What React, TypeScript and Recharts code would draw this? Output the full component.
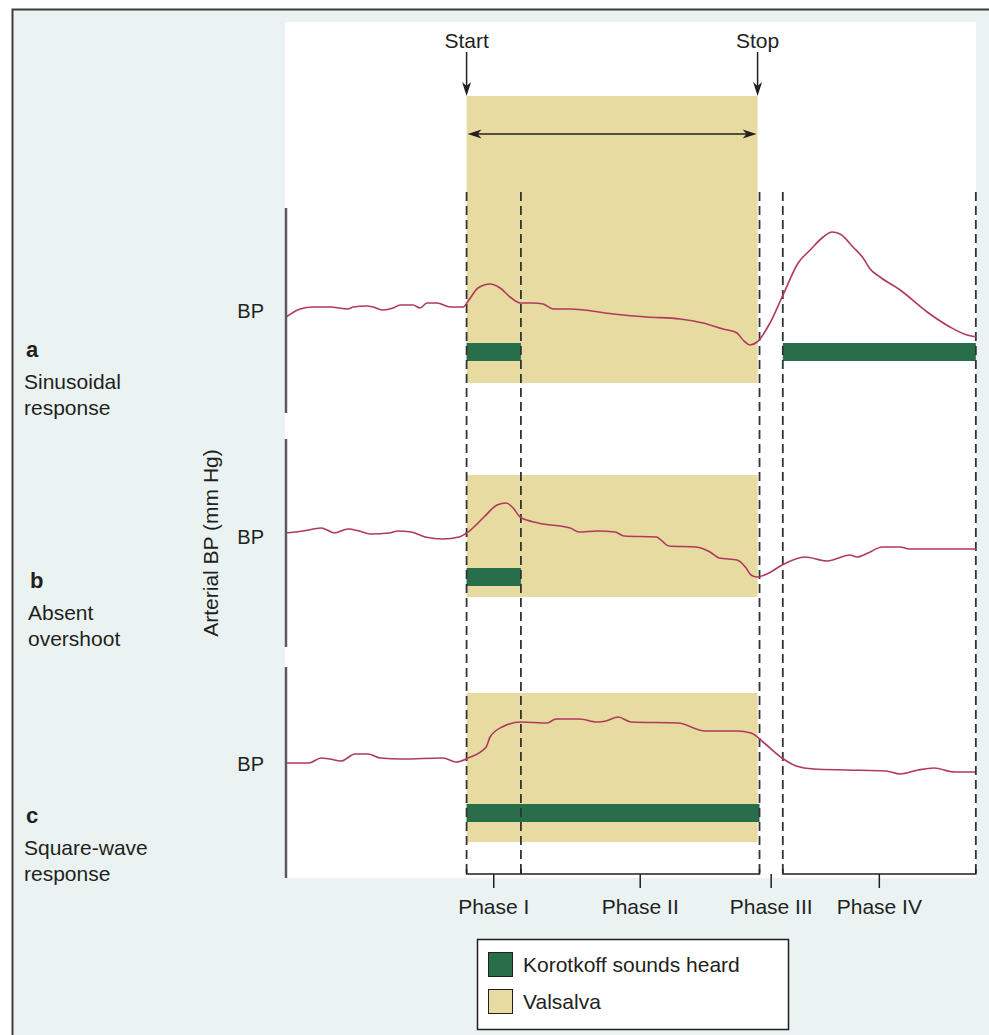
import React from 'react';
import {
    ComposedChart,
    Line,
    XAxis,
    YAxis,
    ReferenceArea,
    ReferenceLine
} from 'recharts';

// time in seconds from the start of the strain
const phaseNames = ['Phase I', 'Phase II', 'Phase III', 'Phase IV'];
const phaseEdges = [0, 2.8, 15.1, 16.3, 26.25];
const valsalvaSpan = [0, 15];

// periods where Korotkoff sounds are heard, per response type
const korotkoffA = [[0, 2.8], [16.3, 26.25]];
const korotkoffB = [[0, 2.8]];
const korotkoffC = [[0, 15.1]];

// a: sinusoidal response
const timeA = [-9.3, -8.58, -7.91, -7.04, -6.11, -5.85, -5.13, -4.82, -4.3, -3.79, -3.43, -2.76, -2.4, -2.04, -1.52, -0.85, -0.18,
    0.08, 0.59, 1.21, 1.73, 2.24, 2.76, 3.43, 3.94, 4.46, 5.34, 7.55, 9.3, 11.01, 12.19, 13.22, 13.94, 14.25, 14.61, 14.97,
    15.64, 16.31, 17.09, 17.71, 18.38, 18.84, 19.25, 19.92, 20.44, 20.8, 21.31, 22.35, 23.74, 24.92, 25.8, 26.31];
const bpA = [116, 119.2, 120, 120, 119.2, 120, 120.4, 120, 118.8, 119.6, 120.8, 120.8, 119.6, 121.6, 121.6, 120, 120,
    122.4, 127.6, 129.2, 127.6, 124, 121.6, 121.6, 121.2, 119.2, 119.2, 117.2, 116, 115.2, 113.6, 111.2, 109.6, 106.8, 104.8, 106,
    113.6, 124.8, 137.6, 142.8, 148, 150, 149.2, 144, 139.6, 135.2, 132, 126.8, 118, 112, 108.8, 108];

// b: absent overshoot
const timeB = [-9.36, -8.43, -7.5, -7.19, -6.83, -6.11, -5.54, -4.97, -3.99, -3.53, -2.86, -2.14, -1.21, -0.39,
    0.08, 0.9, 1.57, 2.04, 2.4, 2.76, 3.69, 5.34, 5.8, 6.73, 7.65, 8.12, 9.77, 10.44, 11.83, 12.55, 13.02, 13.94, 14.41, 14.66, 14.97,
    15.59, 16.26, 17.45, 18.58, 19.77, 20.13, 20.7, 21.42, 22.35, 22.81, 26.26];
const bpB = [120, 120.8, 122, 121.2, 120, 121.6, 120.8, 119.6, 120, 120.8, 120.4, 118.4, 117.6, 118.4,
    120.4, 126.4, 131.2, 132, 130, 126.4, 124, 122, 120.4, 120.8, 120.4, 118.8, 118.4, 114.8, 114.4, 112.4, 110, 109.2, 106, 103.2, 102.4,
    104, 107.2, 110.4, 108.8, 111.2, 110.4, 112, 114.4, 114.4, 113.6, 113.6];

// c: square-wave response
const timeC = [-9.36, -8.12, -7.5, -7.04, -6.47, -5.75, -5.08, -4.46, -3.32, -1.21, -0.54,
    0.08, 1.01, 1.21, 1.83, 2.81, 4.15, 4.61, 5.8, 6.73, 7.19, 7.81, 8.48, 10.9, 12.29, 13.94, 14.66,
    15.34, 16.26, 16.99, 17.91, 19.56, 21.62, 22.35, 23.27, 24.1, 25.13, 26.21];
const bpC = [118.8, 118.8, 120.8, 120.4, 119.6, 122.4, 122.4, 120.8, 120.4, 120.8, 119.2,
    120.8, 125.2, 129.2, 133.2, 135.2, 134.8, 136.4, 136.4, 135.2, 135.6, 137.2, 135.2, 134.8, 131.6, 131.6, 130.8,
    126.8, 120.8, 117.6, 116.4, 116, 115.6, 114.4, 116, 116.8, 115.2, 115.2];

const toPoints = (time: number[], bp: number[]) => time.map((t, i) => ({ t, bp: bp[i] }));

// layout
const W = 989;
const H = 1035;
const PLOT = { left: 285, top: 22, width: 692, height: 856 };
const T_MIN = -9.36;
const T_MAX = 26.31;
const PX_PER_MMHG = 2.5;
const BASE_BP = 120;

const COLORS = {
    frame: '#eaf3f2',
    trace: '#b0395f',
    valsalva: '#e7dba2',
    korotkoff: '#296e4a',
    ink: '#231f20',
    axis: '#5a5a5a'
};
const FONT = '"Liberation Sans", Arial, Helvetica, sans-serif';

const xPx = (t: number) => PLOT.left + ((t - T_MIN) / (T_MAX - T_MIN)) * PLOT.width;
const bpAt = (basePx: number, px: number) => BASE_BP + (basePx - px) / PX_PER_MMHG;
const yDomain = (basePx: number) => [
    bpAt(basePx, PLOT.top + PLOT.height),
    bpAt(basePx, PLOT.top)
];

const panels = [
    { id: 'a', basePx: 307, points: toPoints(timeA, bpA), korotkoff: korotkoffA, band: [96, 383], bar: [343, 361], axis: [208, 413] },
    { id: 'b', basePx: 533, points: toPoints(timeB, bpB), korotkoff: korotkoffB, band: [475, 597], bar: [568, 586], axis: [439, 647] },
    { id: 'c', basePx: 760, points: toPoints(timeC, bpC), korotkoff: korotkoffC, band: [693, 842], bar: [804, 822], axis: [667, 878] }
];

const sideLabels = [
    { letter: 'a', lines: ['Sinusoidal', 'response'], x: 24, y: 349 },
    { letter: 'b', lines: ['Absent', 'overshoot'], x: 28, y: 580 },
    { letter: 'c', lines: ['Square-wave', 'response'], x: 24, y: 815 }
];

const DASH_TOP = 192;
const DASH_BOTTOM = 873;
const BRACKET_Y = 874;

const Arrowhead = ({ x, y, dir }: { x: number; y: number; dir: 'down' | 'left' | 'right' }) => {
    const pts =
        dir === 'down'
            ? `${x},${y} ${x - 4.5},${y - 14} ${x},${y - 10} ${x + 4.5},${y - 14}`
            : dir === 'left'
                ? `${x},${y} ${x + 14},${y - 4.5} ${x + 10},${y} ${x + 14},${y + 4.5}`
                : `${x},${y} ${x - 14},${y - 4.5} ${x - 10},${y} ${x - 14},${y + 4.5}`;
    return <polygon points={pts} fill={COLORS.ink} />;
};

const Backdrop = () => (
    <svg width={W} height={H} style={{ position: 'absolute', left: 0, top: 0 }}>
        <rect x={0} y={0} width={W} height={H} fill="#ffffff" />
        <rect x={12.5} y={9.5} width={W + 20} height={H + 20} fill={COLORS.frame} stroke="#3c3c3c" strokeWidth={2} />
        <rect x={PLOT.left} y={PLOT.top} width={976 - PLOT.left} height={PLOT.height} fill="#ffffff" />
    </svg>
);

const Annotations = () => {
    const start = xPx(valsalvaSpan[0]);
    const stop = xPx(valsalvaSpan[1]);
    const e = phaseEdges.map(xPx);
    const textStyle = { fontFamily: FONT, fontSize: 21, fill: COLORS.ink };
    return (
        <svg width={W} height={H} style={{ position: 'absolute', left: 0, top: 0, pointerEvents: 'none' }}>
            {/* start / stop markers */}
            <text x={start} y={40} textAnchor="middle" dominantBaseline="central" {...textStyle}>Start</text>
            <text x={stop} y={40} textAnchor="middle" dominantBaseline="central" {...textStyle}>Stop</text>
            <line x1={start} y1={52} x2={start} y2={88} stroke={COLORS.ink} strokeWidth={1.5} />
            <Arrowhead x={start} y={96} dir="down" />
            <line x1={stop} y1={52} x2={stop} y2={88} stroke={COLORS.ink} strokeWidth={1.5} />
            <Arrowhead x={stop} y={96} dir="down" />
            <line x1={start + 8} y1={134} x2={stop - 8} y2={134} stroke={COLORS.ink} strokeWidth={1.5} />
            <Arrowhead x={start + 1} y={134} dir="left" />
            <Arrowhead x={stop - 1} y={134} dir="right" />

            {/* per-panel vertical axes */}
            {panels.map(p => (
                <line key={p.id} x1={286} y1={p.axis[0]} x2={286} y2={p.axis[1]} stroke={COLORS.axis} strokeWidth={2.5} />
            ))}
            {panels.map(p => (
                <text key={`bp-${p.id}`} x={264} y={p.basePx + 4} textAnchor="end" dominantBaseline="central" {...textStyle} fontSize={20}>BP</text>
            ))}
            <text
                x={210}
                y={543}
                textAnchor="middle"
                dominantBaseline="central"
                transform="rotate(-90 210 543)"
                {...textStyle}
            >
                Arterial BP (mm Hg)
            </text>

            {sideLabels.map(s => (
                <g key={s.letter}>
                    <text x={s.x + 2} y={s.y} dominantBaseline="central" fontFamily={FONT} fontSize={22} fontWeight="bold" fill={COLORS.ink}>
                        {s.letter}
                    </text>
                    {s.lines.map((l, i) => (
                        <text key={l} x={s.x} y={s.y + 32 + i * 26} dominantBaseline="central" {...textStyle}>{l}</text>
                    ))}
                </g>
            ))}

            {/* phase brackets */}
            <path
                d={`M${e[0]},${BRACKET_Y - 5} V${BRACKET_Y} H${e[2]} V${BRACKET_Y - 5} M${e[1]},${BRACKET_Y - 5} V${BRACKET_Y}
                    M${e[3]},${BRACKET_Y - 5} V${BRACKET_Y} H${e[4]} V${BRACKET_Y - 5}`}
                fill="none"
                stroke={COLORS.ink}
                strokeWidth={1.5}
            />
            {phaseNames.map((name, i) => {
                const cx = (e[i] + e[i + 1]) / 2;
                return (
                    <g key={name}>
                        <line x1={cx} y1={BRACKET_Y} x2={cx} y2={BRACKET_Y + 14} stroke={COLORS.ink} strokeWidth={1.5} />
                        <text x={cx} y={906} textAnchor="middle" dominantBaseline="central" {...textStyle}>{name}</text>
                    </g>
                );
            })}

            {/* legend */}
            <rect x={477.5} y={939.5} width={311} height={90} fill="#ffffff" stroke={COLORS.ink} strokeWidth={1.5} />
            <rect x={488.5} y={952.5} width={24} height={24} fill={COLORS.korotkoff} stroke={COLORS.ink} strokeWidth={1} />
            <text x={523} y={964} dominantBaseline="central" {...textStyle}>Korotkoff sounds heard</text>
            <rect x={488.5} y={989.5} width={24} height={24} fill={COLORS.valsalva} stroke={COLORS.ink} strokeWidth={1} />
            <text x={523} y={1001} dominantBaseline="central" {...textStyle}>Valsalva</text>
        </svg>
    );
};

const App: React.FC = () => {
    const a = panels[0];
    return (
        <div style={{ position: 'absolute', left: 0, top: 0, width: W, height: H, overflow: 'hidden' }}>
            <Backdrop />
            <div style={{ position: 'absolute', left: PLOT.left, top: PLOT.top }}>
                <ComposedChart width={PLOT.width} height={PLOT.height} margin={{ top: 0, right: 0, bottom: 0, left: 0 }}>
                    <XAxis type="number" dataKey="t" domain={[T_MIN, T_MAX]} allowDataOverflow hide />
                    {panels.map(p => (
                        <YAxis key={p.id} yAxisId={p.id} type="number" domain={yDomain(p.basePx)} allowDataOverflow hide />
                    ))}

                    {/* Valsalva strain bands */}
                    {panels.map(p => (
                        <ReferenceArea
                            key={`v-${p.id}`}
                            yAxisId={p.id}
                            x1={valsalvaSpan[0]}
                            x2={valsalvaSpan[1]}
                            y1={bpAt(p.basePx, p.band[1])}
                            y2={bpAt(p.basePx, p.band[0])}
                            fill={COLORS.valsalva}
                            fillOpacity={1}
                            stroke="none"
                        />
                    ))}

                    {/* Korotkoff sound bars */}
                    {panels.flatMap(p =>
                        p.korotkoff.map(([t1, t2], i) => (
                            <ReferenceArea
                                key={`k-${p.id}-${i}`}
                                yAxisId={p.id}
                                x1={t1}
                                x2={t2}
                                y1={bpAt(p.basePx, p.bar[1])}
                                y2={bpAt(p.basePx, p.bar[0])}
                                fill={COLORS.korotkoff}
                                fillOpacity={1}
                                stroke="none"
                            />
                        ))
                    )}

                    {/* phase boundaries */}
                    {phaseEdges.map(t => (
                        <ReferenceLine
                            key={`d-${t}`}
                            yAxisId="a"
                            segment={[
                                { x: t, y: bpAt(a.basePx, DASH_TOP) },
                                { x: t, y: bpAt(a.basePx, DASH_BOTTOM) }
                            ]}
                            stroke="#333333"
                            strokeWidth={1.8}
                            strokeDasharray="9 5"
                        />
                    ))}

                    {panels.map(p => (
                        <Line
                            key={`l-${p.id}`}
                            yAxisId={p.id}
                            data={p.points}
                            dataKey="bp"
                            type="monotone"
                            stroke={COLORS.trace}
                            strokeWidth={1.6}
                            dot={false}
                            activeDot={false}
                            isAnimationActive={false}
                        />
                    ))}
                </ComposedChart>
            </div>
            <Annotations />
        </div>
    );
};

export default App;
